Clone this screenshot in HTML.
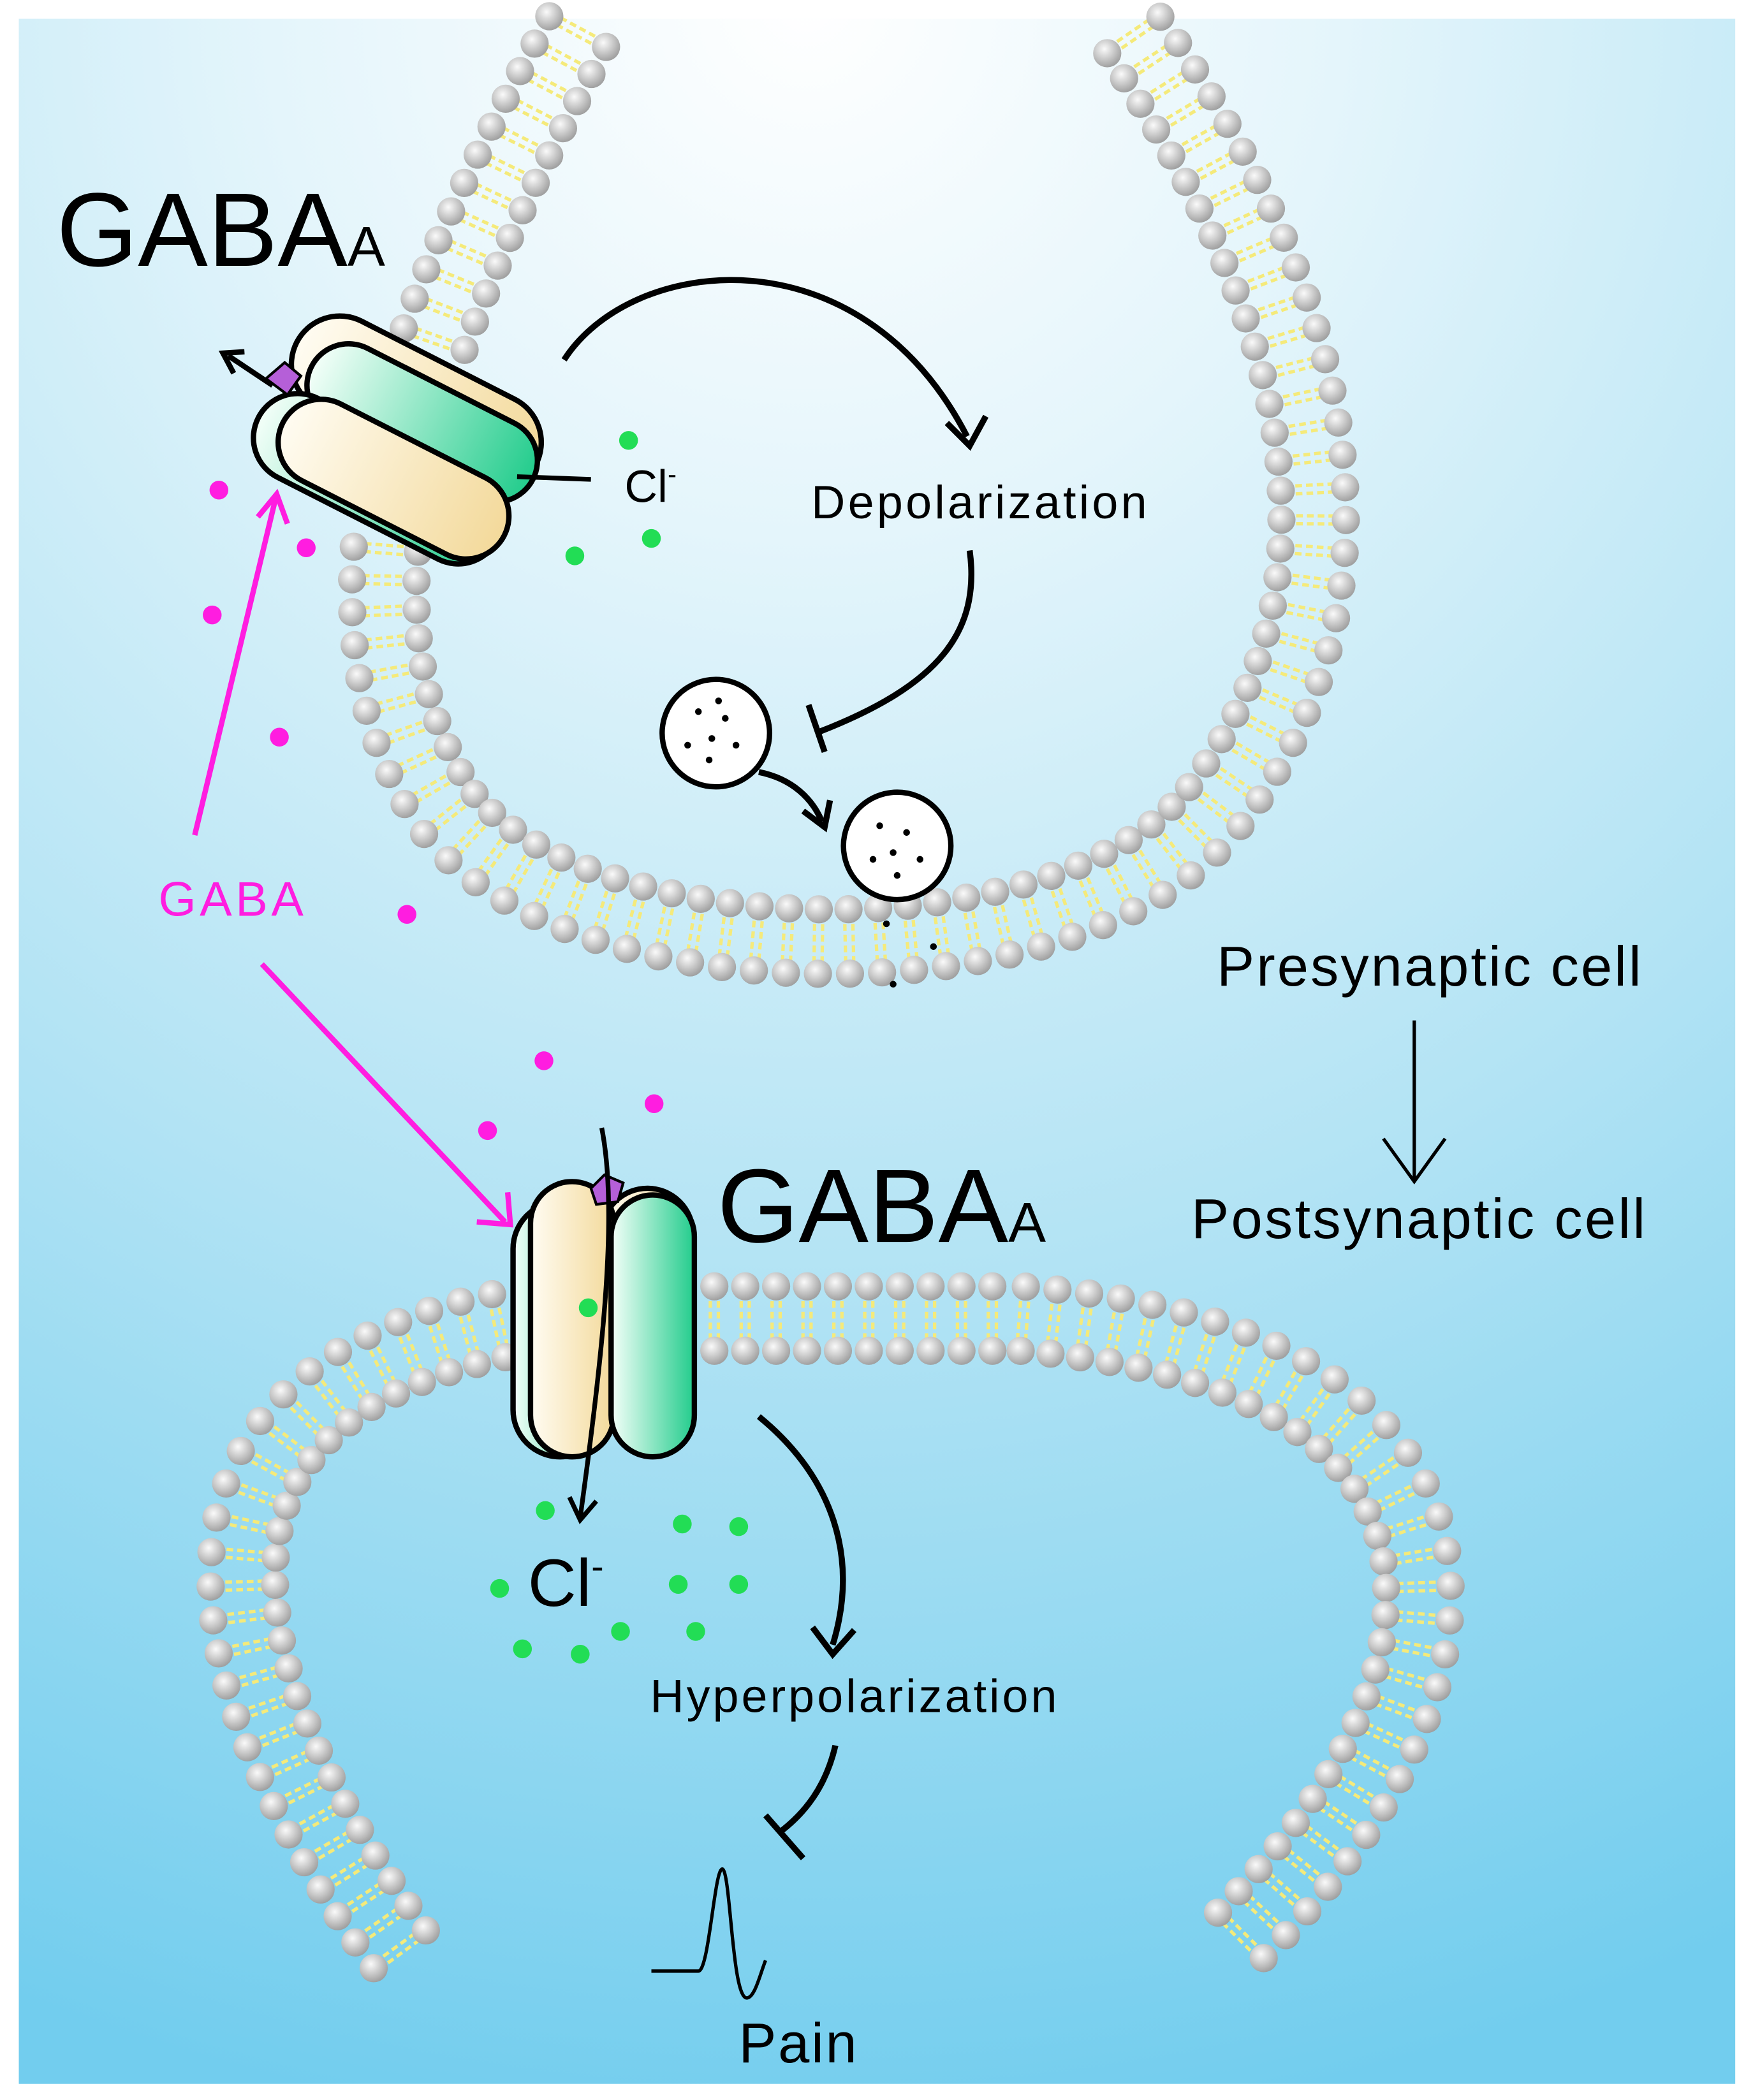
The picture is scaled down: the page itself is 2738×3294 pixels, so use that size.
<!DOCTYPE html>
<html><head><meta charset="utf-8"><style>
html,body{margin:0;padding:0;background:#fff}
svg{display:block}
text{font-family:"Liberation Sans",Arial,sans-serif}
</style></head><body>
<svg id="s" width="2738" height="3294" viewBox="0 0 1300 1564" xmlns="http://www.w3.org/2000/svg">
<defs>
<radialGradient id="bg" cx="600" cy="0" r="1600" gradientUnits="userSpaceOnUse">
<stop offset="0" stop-color="#ffffff"/><stop offset="0.25" stop-color="#e4f5fb"/><stop offset="0.6" stop-color="#b2e3f4"/><stop offset="1" stop-color="#72cdee"/></radialGradient>
<radialGradient id="head" cx="0.4" cy="0.35" r="0.7"><stop offset="0" stop-color="#fafafa"/><stop offset="1" stop-color="#9a9a9a"/></radialGradient>
<linearGradient id="gr" x1="0" y1="0" x2="1" y2="0"><stop offset="0" stop-color="#f4fff9"/><stop offset="1" stop-color="#22cc8c"/></linearGradient>
<linearGradient id="cr" x1="0" y1="0" x2="1" y2="0"><stop offset="0" stop-color="#fffcf2"/><stop offset="1" stop-color="#f3d99a"/></linearGradient>
</defs>
<rect x="0" y="0" width="1300" height="1564" fill="#fff"/>
<rect x="14" y="14" width="1278" height="1538" fill="url(#bg)"/>
<g id="mem"></g>
<path id="p1" d="M432 20 C340 190,220 430,330 600 C420 730,800 740,905 600 C1020 450,1000 250,840 20" fill="none" stroke="none"/>
<path id="p2" d="M300 1455 C150 1250,100 1030,400 982 L760 982 C1125 1010,1125 1250,910 1455" fill="none" stroke="none"/>

<!-- top receptor -->
<g transform="translate(300,320) rotate(27)">
<rect x="-100" y="-58" width="200" height="72" rx="36" fill="url(#cr)" stroke="#000" stroke-width="4"/>
<rect x="-82" y="-42" width="185" height="62" rx="31" fill="url(#gr)" stroke="#000" stroke-width="4"/>
<rect x="-100" y="8" width="200" height="66" rx="33" fill="url(#gr)" stroke="#000" stroke-width="4"/>
<rect x="-82" y="4" width="185" height="64" rx="32" fill="url(#cr)" stroke="#000" stroke-width="4"/>
</g>
<path d="M198 282 l14 -12 l12 10 l-10 14 z" fill="#b55fd8" stroke="#000" stroke-width="2"/>
<path d="M203 287 L170 265" stroke="#000" stroke-width="4" fill="none"/>
<path d="M182 262 L166 263 L174 278" stroke="#000" stroke-width="4" fill="none"/>
<path d="M385 355 L440 357" stroke="#000" stroke-width="3.5" fill="none"/>

<!-- bottom receptor -->
<rect x="382" y="895" width="70" height="190" rx="35" fill="url(#gr)" stroke="#000" stroke-width="4"/>
<rect x="448" y="885" width="68" height="185" rx="34" fill="url(#cr)" stroke="#000" stroke-width="4"/>
<rect x="395" y="880" width="62" height="205" rx="31" fill="url(#cr)" stroke="#000" stroke-width="4"/>
<rect x="455" y="890" width="62" height="195" rx="31" fill="url(#gr)" stroke="#000" stroke-width="4"/>
<path d="M440 885 l10 -10 l14 6 l-4 14 l-16 2 z" fill="#b55fd8" stroke="#000" stroke-width="2"/>
<path d="M448 840 C460 900,450 1000,432 1130" stroke="#000" stroke-width="3.5" fill="none"/>
<path d="M424 1115 L432 1132 L444 1118" stroke="#000" stroke-width="3.5" fill="none"/>

<!-- arrows -->
<path d="M420 268 C470 190,640 170,720 325" stroke="#000" stroke-width="4.5" fill="none"/>
<path d="M705 315 L722 332 L734 310" stroke="#000" stroke-width="4.5" fill="none"/>
<path d="M722 410 C730 470,700 510,610 545" stroke="#000" stroke-width="4.5" fill="none"/>
<path d="M602 525 L614 560" stroke="#000" stroke-width="4.5"/>
<path d="M565 575 C590 580,605 595,612 612" stroke="#000" stroke-width="4.5" fill="none"/>
<path d="M598 604 L614 616 L618 596" stroke="#000" stroke-width="4.5" fill="none"/>
<path d="M565 1055 C620 1100,640 1160,620 1225" stroke="#000" stroke-width="4.5" fill="none"/>
<path d="M605 1212 L620 1232 L636 1214" stroke="#000" stroke-width="4.5" fill="none"/>
<path d="M622 1300 C615 1330,600 1350,580 1365" stroke="#000" stroke-width="4.5" fill="none"/>
<path d="M570 1352 L598 1384" stroke="#000" stroke-width="4.5"/>
<path d="M1053 760 L1053 880" stroke="#000" stroke-width="2.5"/>
<path d="M1030 848 L1053 880 L1076 848" stroke="#000" stroke-width="2.5" fill="none"/>
<path d="M485 1468 L520 1468 C528 1468,532 1390,538 1392 C544 1395,545 1488,556 1488 C562 1488,566 1470,570 1460" stroke="#000" stroke-width="2.5" fill="none"/>

<!-- GABA magenta -->
<path d="M145 622 L205 372" stroke="#ff1de0" stroke-width="4"/>
<path d="M192 385 L206 368 L214 390" stroke="#ff1de0" stroke-width="4" fill="none"/>
<path d="M195 718 L376 910" stroke="#ff1de0" stroke-width="4"/>
<path d="M355 910 L380 912 L378 888" stroke="#ff1de0" stroke-width="4" fill="none"/>
<g fill="#ff1de0">
<circle cx="163" cy="365" r="7"/><circle cx="228" cy="408" r="7"/><circle cx="158" cy="458" r="7"/><circle cx="208" cy="549" r="7"/><circle cx="303" cy="681" r="7"/><circle cx="405" cy="790" r="7"/><circle cx="487" cy="822" r="7"/><circle cx="363" cy="842" r="7"/>
</g>
<g fill="#22dd55">
<circle cx="468" cy="328" r="7"/><circle cx="485" cy="401" r="7"/><circle cx="428" cy="414" r="7"/><circle cx="438" cy="974" r="7"/>
<circle cx="406" cy="1125" r="7"/><circle cx="508" cy="1135" r="7"/><circle cx="550" cy="1137" r="7"/><circle cx="372" cy="1183" r="7"/><circle cx="505" cy="1180" r="7"/><circle cx="550" cy="1180" r="7"/><circle cx="389" cy="1228" r="7"/><circle cx="432" cy="1232" r="7"/><circle cx="462" cy="1215" r="7"/><circle cx="518" cy="1215" r="7"/>
</g>

<!-- vesicles -->
<circle cx="533" cy="546" r="40" fill="#fff" stroke="#000" stroke-width="4"/>
<circle cx="668" cy="630" r="40" fill="#fff" stroke="#000" stroke-width="4"/>
<g fill="#000">
<circle cx="520" cy="530" r="2.5"/><circle cx="540" cy="535" r="2.5"/><circle cx="530" cy="550" r="2.5"/><circle cx="548" cy="555" r="2.5"/><circle cx="512" cy="555" r="2.5"/><circle cx="528" cy="566" r="2.5"/><circle cx="535" cy="522" r="2.5"/>
<circle cx="655" cy="615" r="2.5"/><circle cx="675" cy="620" r="2.5"/><circle cx="665" cy="635" r="2.5"/><circle cx="685" cy="640" r="2.5"/><circle cx="650" cy="640" r="2.5"/><circle cx="668" cy="652" r="2.5"/><circle cx="660" cy="688" r="2.5"/><circle cx="695" cy="705" r="2.5"/><circle cx="665" cy="733" r="2.5"/>
</g>

<!-- text -->
<text x="42" y="198" font-size="78">GABA<tspan font-size="42">A</tspan></text>
<text x="534" y="925" font-size="78">GABA<tspan font-size="42">A</tspan></text>
<text x="465" y="374" font-size="34">Cl<tspan font-size="20" dy="-14">-</tspan></text>
<text x="393" y="1196" font-size="50">Cl<tspan font-size="28" dy="-20">-</tspan></text>
<text x="604" y="386" font-size="35" textLength="250">Depolarization</text>
<text x="484" y="1275" font-size="35" textLength="303">Hyperpolarization</text>
<text x="906" y="734" font-size="42" textLength="316">Presynaptic cell</text>
<text x="887" y="922" font-size="42" textLength="338">Postsynaptic cell</text>
<text x="550" y="1536" font-size="42" textLength="88">Pain</text>
<text x="118" y="682" font-size="36" fill="#ff1de0" textLength="108">GABA</text>
</svg>
<script>
(function(){
var ns="http://www.w3.org/2000/svg",g=document.getElementById("mem");
function mk(t,a){var e=document.createElementNS(ns,t);for(var k in a)e.setAttribute(k,a[k]);return e;}
function build(id,skip){
 var p=document.getElementById(id),L=p.getTotalLength(),step=23,d=24;
 var lines=mk("g",{}),heads=mk("g",{});
 for(var s=4;s<L-4;s+=step){
  var a=p.getPointAtLength(s),b=p.getPointAtLength(Math.min(L,s+1));
  var dx=b.x-a.x,dy=b.y-a.y,n=Math.hypot(dx,dy)||1,nx=-dy/n,ny=dx/n;
  if(skip&&skip(a))continue;
  var x1=a.x+nx*d,y1=a.y+ny*d,x2=a.x-nx*d,y2=a.y-ny*d;
  for(var o=-3;o<=3;o+=6){
   lines.appendChild(mk("line",{x1:x1+dx/n*o,y1:y1+dy/n*o,x2:x2+dx/n*o,y2:y2+dy/n*o,stroke:"#f5ea7a","stroke-width":2.5,"stroke-dasharray":"5 3"}));
  }
  heads.appendChild(mk("circle",{cx:x1,cy:y1,r:10.5,fill:"url(#head)"}));
  heads.appendChild(mk("circle",{cx:x2,cy:y2,r:10.5,fill:"url(#head)"}));
 }
 g.appendChild(lines);g.appendChild(heads);
}
build("p1",function(a){return a.x>210&&a.x<400&&a.y>255&&a.y<405;});
build("p2",function(a){return a.x>375&&a.x<525&&a.y>900&&a.y<1060;});
})();
</script>
</body></html>
